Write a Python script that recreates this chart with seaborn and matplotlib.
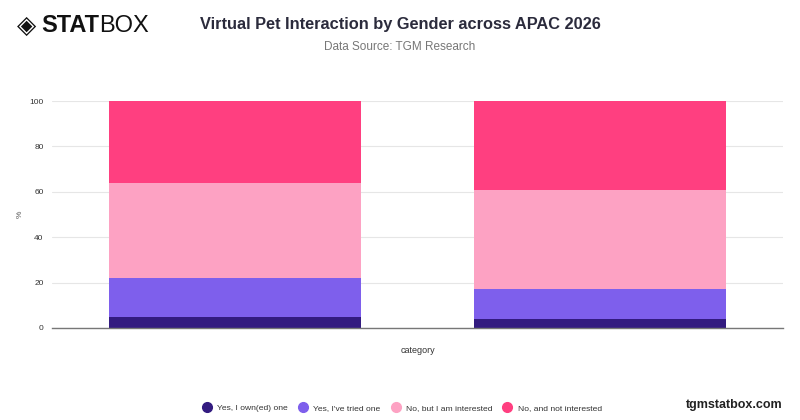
import matplotlib
matplotlib.use("Agg")
import matplotlib.pyplot as plt
import seaborn as sns
import numpy as np
import pandas as pd
from matplotlib.lines import Line2D

categories = ["Male", "Female"]
series_names = ["Yes, I own(ed) one", "Yes, I've tried one", "No, but I am interested", "No, and not interested"]
owned = [5, 4]
tried = [17, 13]
interested = [42, 44]
not_interested = [36, 39]
colors = ["#331B80", "#7E5FEC", "#FDA2C3", "#FF3F80"]
y_ticks = [0, 20, 40, 60, 80, 100]

sns.set_theme(style="white")
plt.rcParams['font.family'] = ['Liberation Sans', 'DejaVu Sans']

fig = plt.figure(figsize=(8, 4.2), dpi=100)
ax = fig.add_axes([52/800, 1-328/420, (783-52)/800, (328-101)/420])

layers = [owned, tried, interested, not_interested]
cum = np.cumsum(np.array(layers), axis=0)
for i in range(len(layers) - 1, -1, -1):
    df = pd.DataFrame({"category": categories, "value": cum[i]})
    sns.barplot(data=df, x="category", y="value", color=colors[i], width=0.69,
                saturation=1, ax=ax, linewidth=0, zorder=2)

ax.set_xlim(-0.5, 1.5)
ax.set_ylim(0, 100)
ax.set_yticks(y_ticks)
ax.set_yticklabels([str(t) for t in y_ticks], fontsize=6, color="#333333")
ax.tick_params(axis="y", length=0, pad=6)
ax.set_xticks([])
ax.yaxis.grid(True, color="#E6E6E6", linewidth=0.8, zorder=0)
ax.set_axisbelow(True)
for s in ["top", "right", "left"]:
    ax.spines[s].set_visible(False)
ax.spines["bottom"].set_color("#777777")
ax.spines["bottom"].set_linewidth(1)
ax.set_xlabel("category", fontsize=6.5, color="#333333", labelpad=13)
ax.set_ylabel("%", fontsize=6, color="#555555", labelpad=4)

# Header
fig.text(0.5, 1-25/420, "Virtual Pet Interaction by Gender across APAC 2026", ha="center", va="center",
         fontsize=11.8, fontweight="bold", color="#2B2B3C")
fig.text(0.5, 1-47/420, "Data Source: TGM Research", ha="center", va="center", fontsize=8.5, color="#777777")

# Logo
fig.text(17/800, 1-26/420, "◈", ha="left", va="center", fontsize=18, color="#111111", family=["DejaVu Sans"])
stat = fig.text(41/800, 1-26/420, "STAT", ha="left", va="center", fontsize=17, fontweight="bold", color="#111111")
fig.canvas.draw()
bb = stat.get_window_extent()
fig.text(bb.x1/800 + 0.5/800, 1-26/420, "BOX", ha="left", va="center", fontsize=17, fontweight="light",
         color="#111111")

# Legend
handles = [Line2D([0], [0], marker="o", linestyle="", markersize=7, markerfacecolor=c, markeredgecolor=c)
           for c in colors]
leg = fig.legend(handles, series_names, loc="center", bbox_to_anchor=(400/800, 1-408/420), ncol=4,
                 frameon=False, fontsize=6.1, handletextpad=0.2, columnspacing=0.8)
for t in leg.get_texts():
    t.set_color("#333333")

fig.text(783/800, 1-405/420, "tgmstatbox.com", ha="right", va="center", fontsize=9, fontweight="bold",
         color="#222222")

fig.savefig("out.png", dpi=100)
